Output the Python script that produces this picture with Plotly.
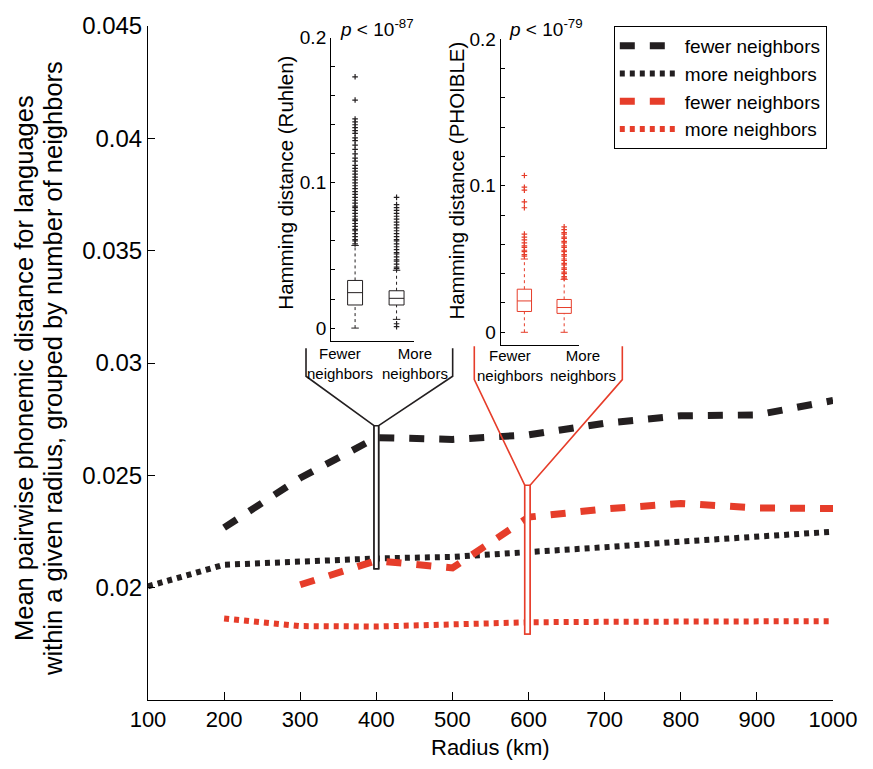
import math
import plotly.graph_objects as go

# ---- main panel: mean pairwise phonemic distance vs. radius ----
radius_km = [100, 200, 300, 400, 500, 600, 700, 800, 900, 1000]
ruhlen_fewer = [None, 0.02267, 0.02488, 0.02668, 0.02660, 0.02680, 0.02732, 0.02765, 0.02769, 0.02833]
ruhlen_more = [0.02006, 0.02102, 0.02116, 0.02130, 0.02137, 0.02156, 0.02180, 0.02205, 0.02229, 0.02249]
phoible_fewer = [None, None, 0.02013, 0.02120, 0.02088, 0.02314, 0.02350, 0.02375, 0.02355, 0.02352]
phoible_more = [None, 0.01863, 0.01829, 0.01827, 0.01839, 0.01846, 0.01848, 0.01849, 0.01850, 0.01851]

x_ticks = [100, 200, 300, 400, 500, 600, 700, 800, 900, 1000]
y_ticks = [0.02, 0.025, 0.03, 0.035, 0.04, 0.045]
y_ticktext = ["0.02", "0.025", "0.03", "0.035", "0.04", "0.045"]

# ---- inset box plots (Hamming distance) ----
group_pos = [1, 2]
group_labels = ["Fewer<br>neighbors", "More<br>neighbors"]

ruhlen_q1 = [0.0159, 0.0159]
ruhlen_median = [0.0244, 0.0205]
ruhlen_q3 = [0.0328, 0.0257]
ruhlen_whisk_lo = [0.0, 0.006]
ruhlen_whisk_hi = [0.0569, 0.0398]
ruhlen_fewer_out = [0.058, 0.060, 0.061, 0.063, 0.065, 0.067, 0.068, 0.070, 0.072, 0.074, 0.075,
                    0.077, 0.079, 0.081, 0.083, 0.084, 0.086, 0.088, 0.090, 0.092, 0.094, 0.096,
                    0.098, 0.100, 0.102, 0.104, 0.106, 0.108, 0.110, 0.112, 0.115, 0.117, 0.120,
                    0.123, 0.126, 0.129, 0.131, 0.134, 0.136, 0.138, 0.140, 0.142, 0.144, 0.157, 0.173]
ruhlen_more_out = [0.001, 0.003, 0.041, 0.042, 0.044, 0.046, 0.047, 0.049, 0.051, 0.052, 0.054,
                   0.056, 0.058, 0.060, 0.061, 0.063, 0.065, 0.067, 0.069, 0.071, 0.073, 0.075,
                   0.077, 0.079, 0.081, 0.083, 0.085, 0.090]

phoible_q1 = [0.0142, 0.0129]
phoible_median = [0.0214, 0.0169]
phoible_q3 = [0.0294, 0.0224]
phoible_whisk_lo = [0.0, 0.0]
phoible_whisk_hi = [0.050, 0.0361]
phoible_fewer_out = [0.052, 0.053, 0.055, 0.056, 0.058, 0.059, 0.061, 0.063, 0.065, 0.067,
                     0.085, 0.089, 0.097, 0.099, 0.107]
phoible_more_out = [0.037, 0.038, 0.040, 0.041, 0.043, 0.044, 0.046, 0.047, 0.049, 0.050, 0.052,
                    0.053, 0.055, 0.056, 0.058, 0.059, 0.061, 0.062, 0.064, 0.065, 0.067, 0.068,
                    0.070, 0.072]

# zoom brackets linking each inset to its radius (main-axis data units)
bracket_ruhlen_x = [307.6, 307.6, 397, 397, 403, 403, 500.3, 500.3]
bracket_ruhlen_y = [0.03066, 0.02941, 0.02721, 0.02084, 0.02084, 0.02721, 0.02941, 0.03066]
bracket_phoible_x = [528.7, 528.7, 595, 595, 602, 602, 723.2, 723.2]
bracket_phoible_y = [0.03074, 0.02926, 0.02456, 0.01794, 0.01794, 0.02456, 0.02926, 0.03074]

BLACK = "#231f20"
RED = "#e63d2a"
FONT = "Liberation Sans, Arial, Helvetica, sans-serif"


def nan(v):
    return [math.nan if a is None else a for a in v]


fig = go.Figure()

series = [
    (ruhlen_fewer, BLACK, "15px,15px", 7),
    (ruhlen_more, BLACK, "5px,5px", 6),
    (phoible_fewer, RED, "15px,15px", 7),
    (phoible_more, RED, "5px,5px", 6),
]
names = ["fewer neighbors", "more neighbors", "fewer neighbors", "more neighbors"]
for (vals, col, dash, w), nm in zip(series, names):
    fig.add_trace(go.Scatter(
        x=radius_km, y=nan(vals), mode="lines", name=nm,
        line=dict(color=col, width=w, dash=dash), connectgaps=False,
        xaxis="x", yaxis="y",
    ))


def add_inset(xa, ya, q1, med, q3, lo, hi, outs, col):
    for i, p in enumerate(group_pos):
        fig.add_trace(go.Box(
            x=[p], q1=[q1[i]], median=[med[i]], q3=[q3[i]],
            lowerfence=[q1[i]], upperfence=[q3[i]],
            width=0.36, whiskerwidth=0, boxpoints=False,
            line=dict(color=col, width=1), fillcolor="rgba(255,255,255,0)",
            xaxis=xa, yaxis=ya, showlegend=False, hoverinfo="skip",
        ))
        # dashed whiskers
        fig.add_trace(go.Scatter(
            x=[p, p, None, p, p], y=[q3[i], hi[i], None, lo[i], q1[i]],
            mode="lines", line=dict(color=col, width=1, dash="3px,3px"),
            xaxis=xa, yaxis=ya, showlegend=False, hoverinfo="skip",
        ))
        # whisker caps
        fig.add_trace(go.Scatter(
            x=[p - 0.09, p + 0.09, None, p - 0.09, p + 0.09],
            y=[hi[i], hi[i], None, lo[i], lo[i]],
            mode="lines", line=dict(color=col, width=1),
            xaxis=xa, yaxis=ya, showlegend=False, hoverinfo="skip",
        ))
        fig.add_trace(go.Scatter(
            x=[p] * len(outs[i]), y=outs[i], mode="markers",
            marker=dict(symbol="cross-thin", size=4, line=dict(color=col, width=1.2)),
            xaxis=xa, yaxis=ya, showlegend=False, hoverinfo="skip",
        ))


add_inset("x2", "y2", ruhlen_q1, ruhlen_median, ruhlen_q3, ruhlen_whisk_lo, ruhlen_whisk_hi,
          [ruhlen_fewer_out, ruhlen_more_out], BLACK)
add_inset("x3", "y3", phoible_q1, phoible_median, phoible_q3, phoible_whisk_lo, phoible_whisk_hi,
          [phoible_fewer_out, phoible_more_out], RED)


def path(xs, ys):
    return "M " + " L ".join(f"{a},{b}" for a, b in zip(xs, ys))


shapes = [
    dict(type="path", path=path(bracket_ruhlen_x, bracket_ruhlen_y), xref="x", yref="y",
         line=dict(color=BLACK, width=1.6), layer="above"),
    dict(type="path", path=path(bracket_phoible_x, bracket_phoible_y), xref="x", yref="y",
         line=dict(color=RED, width=1.6), layer="above"),
    dict(type="rect", x0=bracket_ruhlen_x[2], x1=bracket_ruhlen_x[4],
         y0=bracket_ruhlen_y[3], y1=bracket_ruhlen_y[2], xref="x", yref="y",
         line=dict(color=BLACK, width=1.6), fillcolor="white", layer="above"),
    dict(type="rect", x0=bracket_phoible_x[2], x1=bracket_phoible_x[4],
         y0=bracket_phoible_y[3], y1=bracket_phoible_y[2], xref="x", yref="y",
         line=dict(color=RED, width=1.6), fillcolor="white", layer="above"),
]

inset_y = dict(
    range=[-0.009, 0.2], tickvals=[0, 0.1, 0.2], ticktext=["0", "0.1", "0.2"],
    ticks="inside", ticklen=4, tickcolor="black", showline=True, linecolor="black",
    linewidth=1, showgrid=False, zeroline=False, tickfont=dict(size=19, color="black"),
    minor=dict(dtick=0.02, tick0=0, ticks="inside", ticklen=4, tickcolor="black"),
)
inset_x = dict(showline=True, linecolor="black", linewidth=1, showgrid=False, zeroline=False,
               showticklabels=False, ticks="")


def note(text, x, y, size, angle=0):
    return dict(text=text, x=x, y=y, xref="paper", yref="paper", xanchor="center",
                yanchor="middle", textangle=angle, showarrow=False,
                font=dict(size=size, color="black"))


annotations = [
    note("Mean pairwise phonemic distance for languages", -0.181, 0.4926, 25.5, -90),
    note("within a given radius, grouped by number of neighbors", -0.1387, 0.4926, 25.5, -90),
    note("Radius (km)", 0.5, -0.071, 22),
    note("Hamming distance (Ruhlen)", 0.2015, 0.7676, 20.5, -90),
    note("Hamming distance (PHOIBLE)", 0.4511, 0.7706, 20.5, -90),
    note("<i>p</i> < 10<sup>-87</sup>", 0.3343, 0.997, 19),
    note("<i>p</i> < 10<sup>-79</sup>", 0.581, 0.997, 19),
]
for lx, ly, lab in [(0.2803, 0.50, group_labels[0]), (0.3898, 0.50, group_labels[1]),
                    (0.5285, 0.497, group_labels[0]), (0.6355, 0.497, group_labels[1])]:
    annotations.append(note(lab, lx, ly, 15))

fig.update_layout(
    width=873, height=769,
    margin=dict(l=148, r=40, t=20, b=69),
    paper_bgcolor="white", plot_bgcolor="white",
    font=dict(family=FONT, color="black"),
    xaxis=dict(domain=[0, 1], range=[100, 1000], tickvals=x_ticks, ticks="inside", ticklen=8,
               tickcolor="black", showline=True, linecolor="black", linewidth=1,
               showgrid=False, zeroline=False, tickfont=dict(size=22, color="black"),
               anchor="y"),
    yaxis=dict(domain=[0, 1], range=[0.015, 0.045], tickvals=y_ticks, ticktext=y_ticktext,
               ticks="inside", ticklen=7, tickcolor="black", showline=True, linecolor="black",
               linewidth=1, showgrid=False, zeroline=False,
               tickfont=dict(size=24, color="black"), anchor="x"),
    xaxis2=dict(domain=[0.2672, 0.3883], range=[0.42, 2.42], anchor="y2", **inset_x),
    yaxis2=dict(domain=[0.5324, 0.9828], anchor="x2", **inset_y),
    xaxis3=dict(domain=[0.5149, 0.6296], range=[0.405, 2.38], anchor="y3", **inset_x),
    yaxis3=dict(domain=[0.526, 0.9804], anchor="x3", **inset_y),
    legend=dict(x=0.68, y=1.0, xanchor="left", yanchor="top", bgcolor="white",
                bordercolor="black", borderwidth=1, font=dict(size=19, color="black"),
                itemwidth=60),
    shapes=shapes,
    annotations=annotations,
)

fig.write_html("out.html")
